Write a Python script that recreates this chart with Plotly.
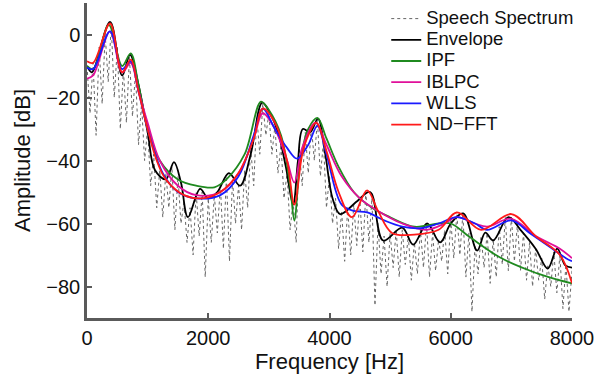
import plotly.graph_objects as go

# ---------------- data ----------------
F0 = 100  # harmonic spacing of the speech spectrum [Hz]
# harmonic peak levels (dB) at k*F0, k = 1..80
spec_peaks = [-9, -4, 0, 3, -4, -11, -7, -12, -22, -30,
              -38, -43, -44, -42, -45, -53, -55, -50, -50, -52,
              -51, -48, -45, -46, -48, -43, -36, -26, -22, -25,
              -29, -35, -44, -53, -36, -31, -29, -27, -34, -45,
              -52, -56, -55, -54, -52, -50, -52, -60, -64, -63,
              -62, -62, -64, -66, -62, -60, -63, -65, -62, -59,
              -57, -57, -63, -67, -64, -63, -65, -61, -58, -58,
              -60, -63, -66, -68, -71, -73, -69, -70, -73, -75]
# trough levels (dB) between harmonics, at (k-0.5)*F0
spec_troughs = [-25, -32, -22, -15, -20, -30, -28, -26, -35, -40,
                -48, -55, -58, -55, -62, -60, -66, -70, -64, -77,
                -66, -63, -68, -72, -60, -62, -55, -48, -38, -32,
                -38, -44, -52, -62, -66, -48, -44, -40, -45, -55,
                -60, -68, -72, -70, -67, -69, -66, -86, -76, -80,
                -74, -77, -73, -78, -76, -74, -77, -75, -72, -76,
                -71, -70, -77, -88, -76, -74, -79, -77, -73, -75,
                -72, -75, -78, -80, -78, -84, -80, -82, -87, -88]

env_f = [0, 80, 380, 580, 710, 850, 1000, 1120, 1300, 1435, 1550, 1665, 1865, 2000, 2150,
         2340, 2525, 2700, 2890, 3020, 3150, 3280, 3400, 3480, 3560, 3680, 3810, 3930, 4050,
         4175, 4450, 4670, 4885, 5200, 5380, 5610, 5825, 6000, 6205, 6435, 6570, 6700, 6950,
         7150, 7400, 7600, 7755, 7890, 8000]
env_db = [-10, -12, 4, -13, -6.5, -16, -31, -43, -46, -40.5, -47, -58, -49, -52, -50,
          -44, -48, -38, -21.6, -25, -31, -42, -54, -40, -30, -31, -26.7, -38, -52,
          -57, -53, -50, -65.4, -61.3, -66.7, -60, -66, -60, -56.8, -68.6, -62.9, -65.4, -58,
          -62, -68, -74.3, -68, -73.3, -74]

ipf_f = [0, 100, 360, 580, 720, 850, 1000, 1200, 1500, 1800, 2100, 2300, 2600, 2870, 3000,
         3200, 3350, 3420, 3520, 3650, 3800, 3950, 4150, 4400, 4700, 5000, 5400, 5800, 6000,
         6320, 6815, 7310, 7700, 8000]
ipf_db = [-10, -11, 3, -10, -6, -16, -30, -40, -46, -48, -48.5, -46, -38, -21.3, -24,
          -32, -48, -59, -40, -30, -26.5, -33, -42, -50, -55, -58, -61, -60, -60,
          -64.4, -70.8, -75, -77.5, -79]

iblpc_f = [0, 100, 380, 580, 720, 850, 1000, 1200, 1500, 1800, 2200, 2500, 2750, 2900, 3100,
           3300, 3420, 3550, 3770, 3950, 4200, 4500, 4800, 5200, 5600, 5900, 6100, 6400, 6600,
           7000, 7400, 7800, 8000]
iblpc_db = [-14, -13, 1, -12, -9, -18, -28, -40, -48, -51, -50, -44, -33, -25, -30,
            -40, -47, -36, -28, -35, -45, -52, -56, -60, -62, -60, -58, -60, -61,
            -58.5, -64, -68, -71]

wlls_f = [0, 100, 380, 580, 720, 850, 1000, 1250, 1500, 1800, 2200, 2500, 2750, 2900, 3100,
          3300, 3465, 3650, 3800, 3950, 4200, 4400, 4620, 4900, 5200, 5500, 5800, 6100, 6400,
          6600, 7000, 7300, 7600, 7900, 8000]
wlls_db = [-10.5, -11, 1, -11, -8.5, -18, -30, -44, -50, -52, -51, -45, -32, -23.5, -30,
           -36, -39.4, -35, -29, -38, -54, -56, -56.5, -59, -61, -61.5, -60, -58, -60,
           -62, -59, -63, -67, -71, -72]

ndfft_f = [0, 100, 380, 580, 720, 850, 1000, 1150, 1300, 1600, 1900, 2200, 2500, 2750, 2900,
           3100, 3300, 3420, 3550, 3650, 3780, 3950, 4150, 4370, 4620, 4800, 5030, 5400, 5800,
           6100, 6500, 7000, 7400, 7800, 8000]
ndfft_db = [-8.5, -9, 3.5, -12, -8, -18, -30, -40, -46, -51, -52, -50, -44, -33, -23.5,
            -28, -40, -54, -38, -32, -28, -37, -50, -58, -49.5, -56, -63, -63.5, -62,
            -56.5, -62, -57, -64, -70, -79]

x_ticks = [0, 2000, 4000, 6000, 8000]
y_ticks = [0, -20, -40, -60, -80]

# speech spectrum polyline: trough, peak, trough, peak ...
spec_f = [0]
spec_db = [-10]
for k, (pk, tr) in enumerate(zip(spec_peaks, spec_troughs), start=1):
    spec_f += [(k - 0.5) * F0, k * F0]
    spec_db += [tr, pk]

FONT = "Liberation Sans, Arial, Helvetica, sans-serif"
AX = "#5a5a5a"

def lg(name):
    return "<span style='font-size:18.5px'>%s</span>" % name

fig = go.Figure()
fig.add_trace(go.Scatter(x=spec_f, y=spec_db, mode="lines", name=lg("Speech Spectrum"),
                         line=dict(color="#666666", width=1, dash="dot")))
curves = [
    ("Envelope", env_f, env_db, "#000000"),
    ("IPF", ipf_f, ipf_db, "#1f8a1f"),
    ("IBLPC", iblpc_f, iblpc_db, "#e0109a"),
    ("WLLS", wlls_f, wlls_db, "#1a1aff"),
    ("ND\u2212FFT", ndfft_f, ndfft_db, "#ff1a1a"),
]
for name, xf, yd, col in curves:
    fig.add_trace(go.Scatter(x=xf, y=yd, mode="lines", name=lg(name),
                             line=dict(color=col, width=1.8, shape="spline", smoothing=1.0)))

fig.update_layout(
    width=599, height=382,
    margin=dict(l=87, r=27, t=3, b=64),
    paper_bgcolor="white", plot_bgcolor="white",
    font=dict(family=FONT, color="#111111"),
    showlegend=True,
    legend=dict(x=0.617, y=1.0, xanchor="left", yanchor="top",
                bgcolor="rgba(0,0,0,0)", borderwidth=0,
                font=dict(size=14, family=FONT, color="#111111"),
                tracegroupgap=0),
)
fig.update_xaxes(range=[0, 8000], tickvals=x_ticks, ticks="inside", ticklen=5,
                 tickcolor=AX, tickwidth=1.5, showline=True, linecolor=AX, linewidth=2.5,
                 showgrid=False, zeroline=False, tickfont=dict(size=20),
                 title=dict(text="Frequency [Hz]", font=dict(size=22), standoff=3))
fig.update_yaxes(range=[-90, 10], tickvals=y_ticks, ticks="inside", ticklen=5,
                 tickcolor=AX, tickwidth=1.5, showline=True, linecolor=AX, linewidth=2.5,
                 showgrid=False, zeroline=False, tickfont=dict(size=20),
                 title=dict(text="Amplitude [dB]", font=dict(size=22), standoff=10))

fig.write_html("out.html")
